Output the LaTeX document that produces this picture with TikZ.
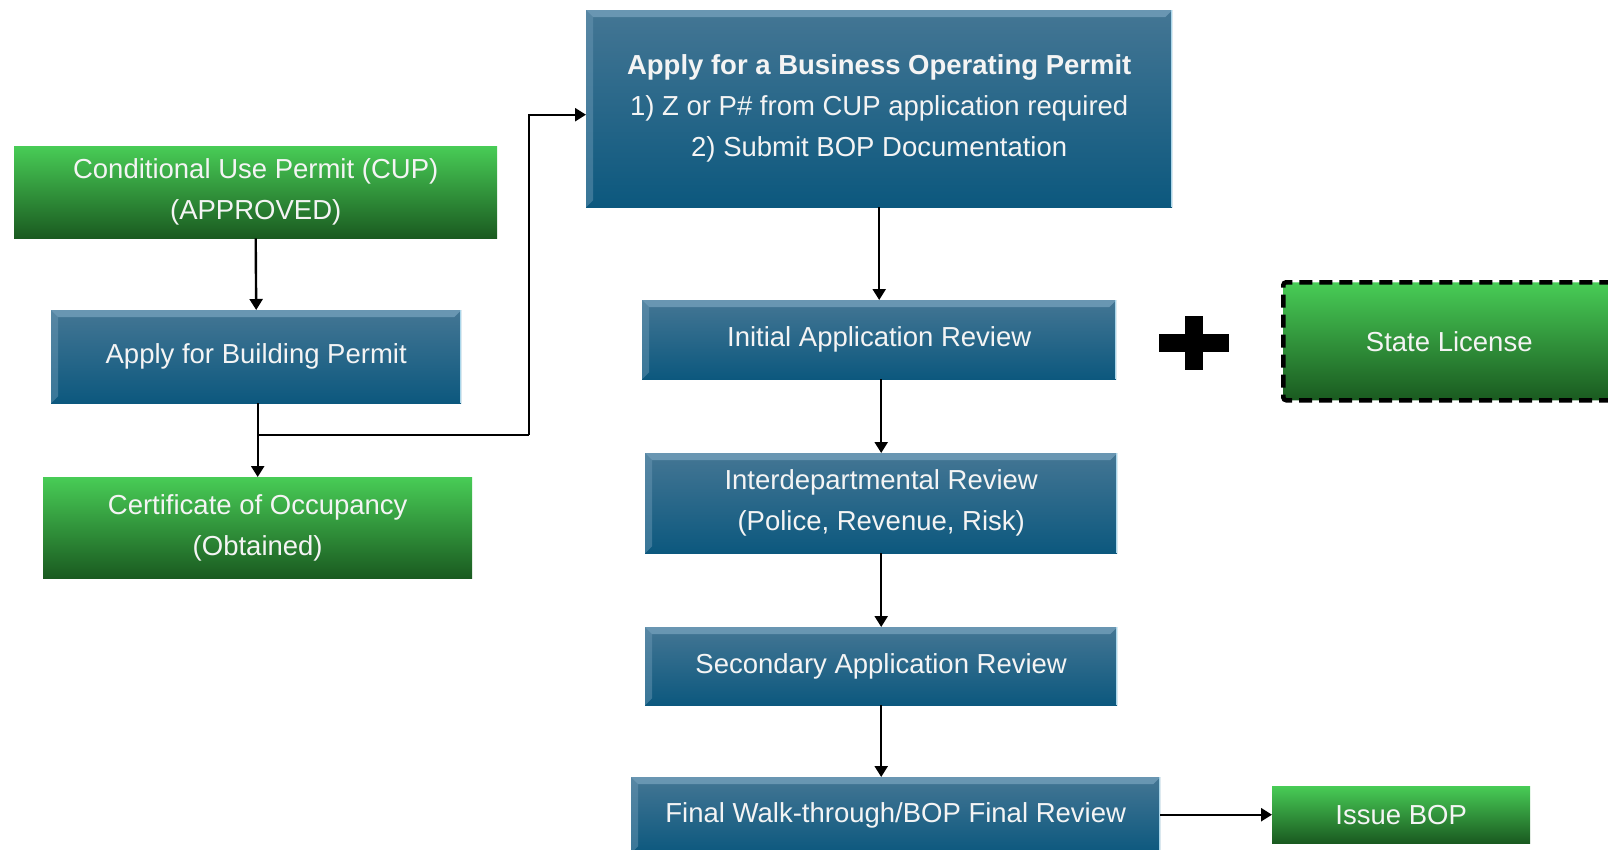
\documentclass[tikz,border=0pt]{standalone}
\usepackage{fontspec}
\setmainfont{Liberation Sans}
\usetikzlibrary{arrows.meta}
\definecolor{blueTop}{RGB}{68,118,148}
\definecolor{blueMid}{RGB}{22,96,132}
\definecolor{blueBot}{RGB}{12,88,126}
\definecolor{blueHi}{RGB}{112,156,184}
\definecolor{blueEdge}{RGB}{170,215,235}
\definecolor{greenTop}{RGB}{72,204,86}
\definecolor{greenMid}{RGB}{40,140,50}
\definecolor{greenBot}{RGB}{26,90,32}
\definecolor{txt}{RGB}{244,244,244}
\tikzset{
  box/.style={anchor=north west, inner sep=0pt, align=center, text=txt,
    font=\fontsize{27.5}{41}\selectfont},
  bluebox/.style={box, top color=blueTop, middle color=blueMid, bottom color=blueBot,
    path picture={
      \fill[blueHi, opacity=0.85] (path picture bounding box.north west) -- (path picture bounding box.north east)
        -- ([xshift=-7pt,yshift=-7pt]path picture bounding box.north east)
        -- ([xshift=7pt,yshift=-7pt]path picture bounding box.north west) -- cycle;
      \fill[blueHi, opacity=0.45] (path picture bounding box.north west) -- ([xshift=7pt,yshift=-7pt]path picture bounding box.north west)
        -- ([xshift=7pt,yshift=7pt]path picture bounding box.south west) -- (path picture bounding box.south west) -- cycle;
      \draw[blueEdge, line width=2.5pt] (path picture bounding box.north east) -- (path picture bounding box.south east);
    }},
  greenbox/.style={box, top color=greenTop, middle color=greenMid, bottom color=greenBot},
  conn/.style={draw=black, line width=2.4pt, -{Triangle[length=11pt,width=13pt]}},
  plain/.style={draw=black, line width=2.4pt}
}
\begin{document}
\begin{tikzpicture}[x=1pt,y=-1pt]
\useasboundingbox (0,0) rectangle (1608,849);
\clip (0,0) rectangle (1608,849);
\fill[white] (0,0) rectangle (1608,849);

\node[greenbox, minimum width=483pt, minimum height=92pt] (cup) at (14,146)
  {Conditional Use Permit (CUP)\\(APPROVED)};
\node[bluebox, minimum width=410pt, minimum height=93pt] (bp) at (51,310)
  {Apply for Building Permit};
\node[greenbox, minimum width=429pt, minimum height=101pt] (co) at (43,477)
  {Certificate of Occupancy\\(Obtained)};

\node[bluebox, minimum width=586pt, minimum height=197pt] (bop) at (586,10)
  {\textbf{Apply for a Business Operating Permit}\\1) Z or P\# from CUP application required\\2) Submit BOP Documentation};
\node[bluebox, minimum width=474pt, minimum height=79pt] (init) at (642,300)
  {Initial Application Review};
\node[bluebox, minimum width=472pt, minimum height=100pt] (inter) at (645,453)
  {Interdepartmental Review\\(Police, Revenue, Risk)};
\node[bluebox, minimum width=472pt, minimum height=78pt] (sec) at (645,627)
  {Secondary Application Review};
\node[bluebox, minimum width=529pt, minimum height=76pt] (final) at (631,777)
  {Final Walk-through/BOP Final Review};
\node[greenbox, minimum width=258pt, minimum height=57pt] (issue) at (1272,786)
  {Issue BOP};

\node[greenbox, minimum width=332pt, minimum height=118pt, draw=black, line width=4.5pt,
  dash pattern=on 13pt off 7pt, rounded corners=3pt] (state) at (1281,280)
  {State License};

% plus sign
\coordinate (plus) at (1194,343);
\fill[black] ([xshift=-35pt,yshift=9pt]plus) rectangle ([xshift=35pt,yshift=-9pt]plus);
\fill[black] ([xshift=-9pt,yshift=27pt]plus) rectangle ([xshift=9pt,yshift=-27pt]plus);

% connectors
\draw[conn] (cup.south) -- (bp.north);
\draw[conn] (bp.south -| co.north) -- (co.north);
\coordinate (j) at (257,435);
\coordinate (bend) at (529,435);
\draw[plain] (j) -- (bend);
\draw[conn] (bend) |- ([yshift=-6pt]bop.west);
\draw[conn] (bop.south) -- (init.north);
\draw[conn] (init.south -| inter.north) -- (inter.north);
\draw[conn] (inter.south) -- (sec.north);
\draw[conn] (sec.south) -- (sec.south |- final.north);
\draw[conn] (final.east |- issue.west) -- (issue.west);
\end{tikzpicture}
\end{document}
